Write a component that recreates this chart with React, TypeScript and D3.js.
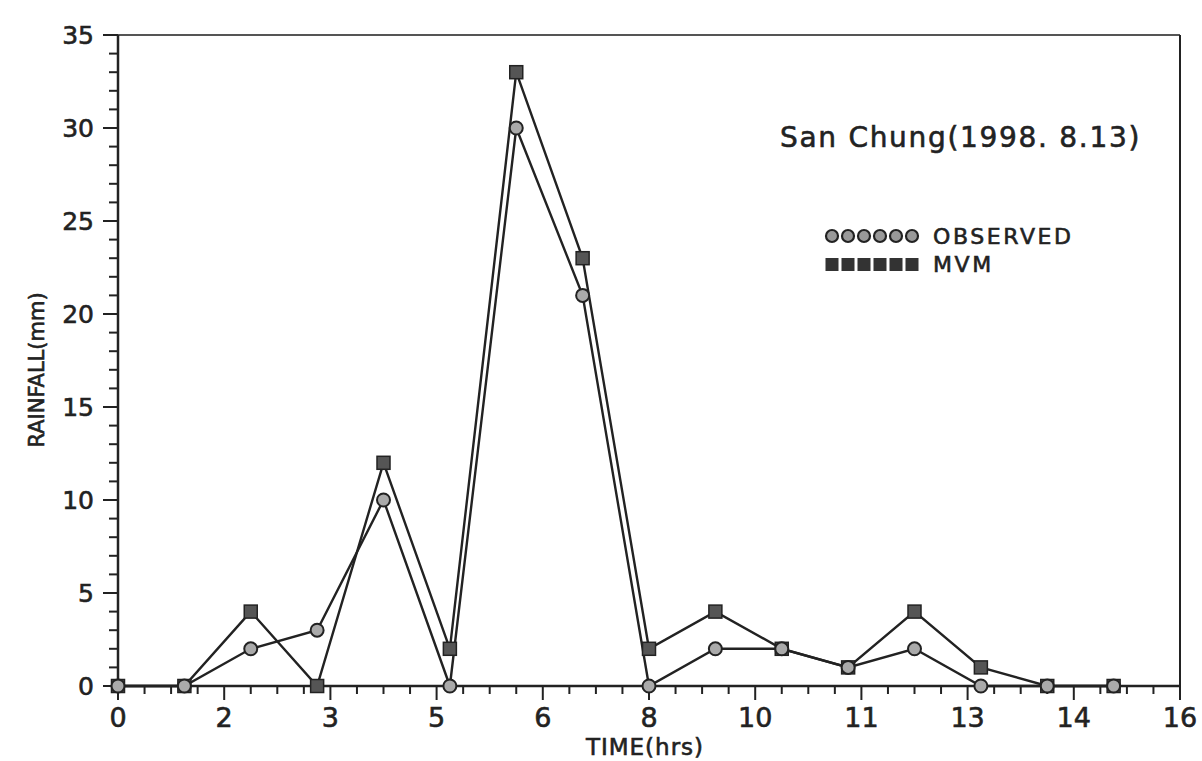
import React from "react";
import * as d3 from "d3";

const hours = [0, 1, 2, 3, 4, 5, 6, 7, 8, 9, 10, 11, 12, 13, 14, 15];
const observed = [0, 0, 2, 3, 10, 0, 30, 21, 0, 2, 2, 1, 2, 0, 0, 0];
const mvm = [0, 0, 4, 0, 12, 2, 33, 23, 2, 4, 2, 1, 4, 1, 0, 0];
const xMajorTicks = [0, 1.6, 3.2, 4.8, 6.4, 8, 9.6, 11.2, 12.8, 14.4, 16];
const yMajorTicks = [0, 5, 10, 15, 20, 25, 30, 35];
const title = "San Chung(1998. 8.13)";
const legendLabels = ["OBSERVED", "MVM"];

const W = 1202;
const H = 761;
const left = 118;
const right = 1180;
const top = 35;
const bottom = 686;
const font = "'DejaVu Sans', 'Liberation Sans', sans-serif";
const ink = "#222";
const textStroke = { stroke: ink, strokeWidth: 0.6 };

export default function App() {
  const x = d3.scaleLinear().domain([0, 16]).range([left, right]);
  const y = d3.scaleLinear().domain([0, 35]).range([bottom, top]);
  const xMinor = d3.range(0, 16.001, 0.4);
  const yMinor = d3.range(0, 35.001, 1);
  const line = d3
    .line<number>()
    .x((_, i) => x(hours[i]))
    .y((d) => y(d));

  return (
    <svg
      width={W}
      height={H}
      style={{ position: "absolute", left: 0, top: 0, background: "#fff" }}
    >
      {/* frame */}
      <line x1={left} x2={right} y1={top} y2={top} stroke="#555" strokeWidth={2} />
      <line x1={right} x2={right} y1={top} y2={bottom} stroke={ink} strokeWidth={2} />
      <line x1={left} x2={left} y1={top} y2={bottom} stroke={ink} strokeWidth={2.5} />
      <line x1={left} x2={right} y1={bottom} y2={bottom} stroke={ink} strokeWidth={2.5} />

      {/* y ticks */}
      {yMinor.map((v) => (
        <line
          key={"ym" + v}
          x1={left - (v % 5 === 0 ? 15 : 9)}
          x2={left}
          y1={y(v)}
          y2={y(v)}
          stroke={ink}
          strokeWidth={2}
        />
      ))}
      {yMajorTicks.map((v) => (
        <text
          key={"yl" + v}
          x={left - 24}
          y={y(v)}
          dy="0.36em"
          textAnchor="end"
          fontFamily={font}
          fontSize={25}
          fill={ink}
          {...textStroke}
        >
          {v}
        </text>
      ))}

      {/* x ticks */}
      {xMinor.map((v, i) => (
        <line
          key={"xm" + i}
          x1={x(v)}
          x2={x(v)}
          y1={bottom}
          y2={bottom + (i % 4 === 0 ? 14 : 8)}
          stroke={ink}
          strokeWidth={2}
        />
      ))}
      {xMajorTicks.map((v) => (
        <text
          key={"xl" + v}
          x={x(v)}
          y={bottom + 41}
          textAnchor="middle"
          fontFamily={font}
          fontSize={27}
          fill={ink}
          {...textStroke}
        >
          {d3.format(".0f")(v)}
        </text>
      ))}

      {/* axis titles */}
      <text
        x={645}
        y={755}
        textAnchor="middle"
        fontFamily={font}
        fontSize={23}
        letterSpacing={1}
        fill={ink}
        {...textStroke}
      >
        TIME(hrs)
      </text>
      <text
        transform={`translate(44, 370) rotate(-90)`}
        textAnchor="middle"
        fontFamily={font}
        fontSize={21}
        fill={ink}
        {...textStroke}
      >
        RAINFALL(mm)
      </text>

      {/* series lines */}
      <path d={line(mvm) || ""} fill="none" stroke={ink} strokeWidth={2.4} />
      <path d={line(observed) || ""} fill="none" stroke={ink} strokeWidth={2.4} />

      {/* markers */}
      {mvm.map((v, i) => (
        <rect
          key={"m" + i}
          x={x(hours[i]) - 6.5}
          y={y(v) - 6.5}
          width={13}
          height={13}
          fill="#555"
          stroke={ink}
          strokeWidth={1.5}
        />
      ))}
      {observed.map((v, i) => (
        <circle
          key={"o" + i}
          cx={x(hours[i])}
          cy={y(v)}
          r={6.5}
          fill="#aaa"
          stroke={ink}
          strokeWidth={2}
        />
      ))}

      {/* title */}
      <text
        x={780}
        y={147}
        fontFamily={font}
        fontSize={28}
        letterSpacing={1.7}
        fill={ink}
        {...textStroke}
      >
        {title}
      </text>

      {/* legend */}
      {d3.range(6).map((k) => (
        <circle
          key={"lo" + k}
          cx={832 + k * 16}
          cy={236}
          r={6}
          fill="#999"
          stroke={ink}
          strokeWidth={2.2}
        />
      ))}
      {d3.range(6).map((k) => (
        <rect
          key={"lm" + k}
          x={825.5 + k * 16}
          y={258}
          width={13}
          height={13}
          fill="#333"
        />
      ))}
      <text
        x={933}
        y={244}
        fontFamily={font}
        fontSize={22}
        letterSpacing={2.6}
        fill={ink}
        {...textStroke}
      >
        {legendLabels[0]}
      </text>
      <text
        x={933}
        y={272}
        fontFamily={font}
        fontSize={22}
        letterSpacing={2.6}
        fill={ink}
        {...textStroke}
      >
        {legendLabels[1]}
      </text>
    </svg>
  );
}
